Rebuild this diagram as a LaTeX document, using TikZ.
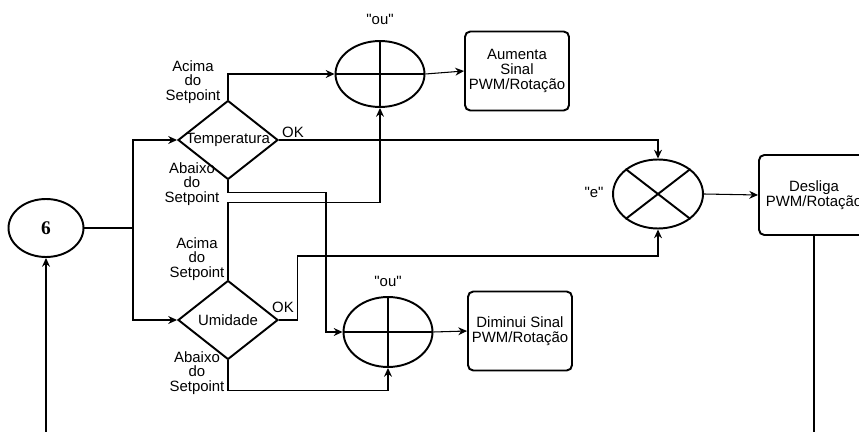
\documentclass[tikz,border=0pt]{standalone}
\usepackage{fontspec}
\setmainfont{Liberation Sans}
\newfontfamily\serifb{Liberation Serif}
\usetikzlibrary{arrows.meta,shapes.geometric}

\newcommand{\aspas}[1]{\textquotedbl#1\textquotedbl}

\begin{document}
\begin{tikzpicture}[
  x=0.02cm, y=-0.02cm,
  font=\fontsize{8.5}{8.4}\selectfont,
  decis/.style={diamond,draw,line width=1.1pt,minimum width=2cm,minimum height=1.58cm,inner sep=0pt},
  junc/.style={ellipse,draw,line width=1.1pt,minimum width=1.78cm,minimum height=1.32cm,inner sep=0pt},
  acao/.style={rectangle,rounded corners=3pt,draw,line width=1.1pt,minimum width=2.08cm,minimum height=1.58cm,align=center,inner sep=1pt},
  cond/.style={align=center,inner sep=0pt},
  seta/.style={-{Stealth[length=5pt,width=4.5pt]},line width=0.6pt},
  cruz/.style={line width=1.1pt},
]
  \clip (0,0) rectangle (859,432);

  \node[junc,minimum width=1.5cm,minimum height=1.16cm,font=\serifb\bfseries\fontsize{11}{11}\selectfont] (six) at (46,228) {6};
  \coordinate (split) at (133,228);
  \node[decis,label=center:Temperatura] (temp) at (228,140) {};
  \node[decis,label=center:Umidade] (umid) at (228,320) {};

  \node[junc] (ou1) at (380,74) {};
  \node[junc,minimum height=1.4cm] (ou2) at (388,332) {};
  \node[junc,minimum width=1.8cm,minimum height=1.38cm] (e) at (658,194) {};
  \draw[cruz] (ou1.north) -- (ou1.south) (ou1.west) -- (ou1.east);
  \draw[cruz] (ou2.north) -- (ou2.south) (ou2.west) -- (ou2.east);
  \draw[cruz] (e.north west) -- (e.south east) (e.north east) -- (e.south west);

  \node[acao] (aum) at (517,71) {Aumenta\\Sinal\\PWM/Rotação};
  \node[acao] (dim) at (520,331) {Diminui Sinal\\PWM/Rotação};
  \node[acao,minimum width=2.2cm,minimum height=1.6cm] (desl) at (814,195) {Desliga\\PWM/Rotação};

  % rotulos
  \node (ou1txt) at (380,19) {\aspas{ou}};
  \node (ou2txt) at (388,281) {\aspas{ou}};
  \node (etxt) at (594,192) {\aspas{e}};
  \node[cond] (tacima) at (193,82) {Acima\\do\\Setpoint};
  \node[cond] (tabaixo) at (192,184) {Abaixo\\do\\Setpoint};
  \node[cond] (uacima) at (197,259) {Acima\\do\\Setpoint};
  \node[cond] (uabaixo) at (197,373) {Abaixo\\do\\Setpoint};
  \node (tok) at (293,132) {OK};
  \node (uok) at (283,307) {OK};

  % ligacoes
  \draw[seta] (six.east) -- (split) |- (temp.west);
  \draw[seta] (split) |- (umid.west);
  \draw[seta] (temp.north) |- (ou1.west);
  \draw[seta] (temp.east) -| (e.north);
  \draw[seta] (temp.south) -- ++(0,12) -- ++(98,0) |- (ou2.west);
  \draw[seta] (umid.north) -- ++(0,-77) -| (ou1.south);
  \draw[seta] (umid.east) -- ++(19,0) -- ++(0,-64) -| (e.south);
  \draw[seta] (umid.south) -- ++(0,30) -| (ou2.south);
  \draw[seta] (ou1.east) -- (aum.west);
  \draw[seta] (ou2.east) -- (dim.west);
  \draw[seta] (e.east) -- (desl.west);
  \draw[seta] (desl.south) -- ++(0,230) -| (six.south);
\end{tikzpicture}
\end{document}
